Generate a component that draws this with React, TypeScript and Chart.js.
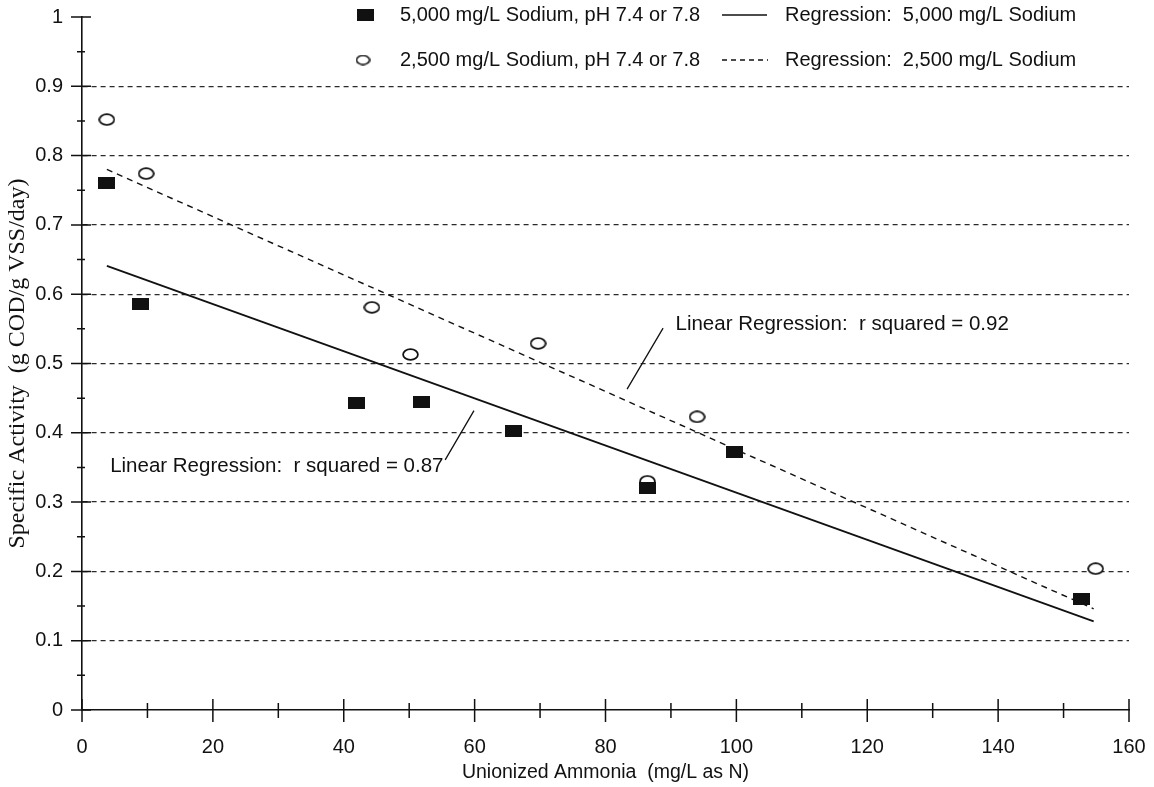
import React, { useEffect, useRef } from 'react';
import { Chart, registerables } from 'chart.js';

Chart.register(...registerables);

// ---- Data ----
const squareX = [3.8, 8.9, 41.9, 51.9, 65.9, 86.4, 99.7, 152.8];
const squareY = [0.761, 0.586, 0.443, 0.444, 0.402, 0.32, 0.373, 0.16];

const circleX = [3.8, 9.8, 44.3, 50.2, 69.7, 86.4, 94.0, 154.9];
const circleY = [0.852, 0.774, 0.581, 0.513, 0.529, 0.33, 0.423, 0.204];

const reg5000X = [3.8, 154.6];
const reg5000Y = [0.641, 0.128];
const reg2500X = [3.8, 154.6];
const reg2500Y = [0.78, 0.146];

const xMajorTicks = [0, 20, 40, 60, 80, 100, 120, 140, 160];
const xMinorTicks = [10, 30, 50, 70, 90, 110, 130, 150];
const yMajorTicks = [0, 0.1, 0.2, 0.3, 0.4, 0.5, 0.6, 0.7, 0.8, 0.9, 1];
const yMinorTicks = [0.05, 0.15, 0.25, 0.35, 0.45, 0.55, 0.65, 0.75, 0.85, 0.95];

const legendLabels = [
  '5,000 mg/L Sodium, pH 7.4 or 7.8',
  '2,500 mg/L Sodium, pH 7.4 or 7.8',
];
const regressionLabels = [
  'Regression:  5,000 mg/L Sodium',
  'Regression:  2,500 mg/L Sodium',
];

const xTitle = 'Unionized Ammonia  (mg/L as N)';
const yTitle = 'Specific Activity  (g COD/g VSS/day)';

// annotation texts with anchor (data coords) and leader lines (data coords)
const note92 = 'Linear Regression:  r squared = 0.92';
const note92Anchor = [90.7, 0.556];
const note92Leader = [[88.8, 0.551], [83.3, 0.463]];
const note87 = 'Linear Regression:  r squared = 0.87';
const note87Anchor = [4.3, 0.351];
const note87Leader = [[55.5, 0.361], [59.9, 0.432]];

const SANS = '"Liberation Sans", Arial, Helvetica, sans-serif';
const SERIF = '"Liberation Serif", "Times New Roman", serif';
const INK = '#111';

function makeRect(w: number, h: number) {
  const c = document.createElement('canvas');
  c.width = w;
  c.height = h;
  const g = c.getContext('2d')!;
  g.fillStyle = INK;
  g.fillRect(0, 0, w, h);
  return c;
}

function makeEllipse(w: number, h: number, lw: number) {
  const c = document.createElement('canvas');
  c.width = w;
  c.height = h;
  const g = c.getContext('2d')!;
  g.beginPath();
  g.ellipse(w / 2, h / 2, w / 2 - lw / 2 - 0.2, h / 2 - lw / 2 - 0.2, 0, 0, Math.PI * 2);
  g.fillStyle = '#fff';
  g.fill();
  g.lineWidth = lw;
  g.strokeStyle = INK;
  g.stroke();
  return c;
}

function fmtY(v: number) {
  if (Math.abs(v) < 1e-9) return '0';
  if (Math.abs(v - 1) < 1e-9) return '1';
  return v.toFixed(1);
}

export default function App() {
  const ref = useRef<HTMLCanvasElement | null>(null);

  useEffect(() => {
    document.body.style.margin = '0';
    const canvas = ref.current;
    if (!canvas) return;

    const sq = makeRect(17, 12);
    const el = makeEllipse(17, 13, 1.8);
    const sqLegend = makeRect(17, 12);
    const elLegend = makeEllipse(15, 11, 1.6);

    const decor = {
      id: 'decor',
      afterDraw(chart: any) {
        const { ctx, scales } = chart;
        const xs = scales.x;
        const ys = scales.y;
        const ax = xs.getPixelForValue(0);
        const ay = ys.getPixelForValue(0);
        ctx.save();
        ctx.strokeStyle = INK;
        ctx.lineWidth = 1.5;
        ctx.setLineDash([]);
        ctx.beginPath();
        yMajorTicks.forEach((v) => {
          const p = ys.getPixelForValue(v);
          ctx.moveTo(ax - 11, p);
          ctx.lineTo(ax + 9, p);
        });
        yMinorTicks.forEach((v) => {
          const p = ys.getPixelForValue(v);
          ctx.moveTo(ax - 5, p);
          ctx.lineTo(ax + 3, p);
        });
        xMajorTicks.forEach((v) => {
          const p = xs.getPixelForValue(v);
          ctx.moveTo(p, ay - 11);
          ctx.lineTo(p, ay + 12);
        });
        xMinorTicks.forEach((v) => {
          const p = xs.getPixelForValue(v);
          ctx.moveTo(p, ay - 7);
          ctx.lineTo(p, ay + 8);
        });
        ctx.stroke();

        // leader lines
        ctx.lineWidth = 1.3;
        ctx.beginPath();
        [note92Leader, note87Leader].forEach((seg) => {
          ctx.moveTo(xs.getPixelForValue(seg[0][0]), ys.getPixelForValue(seg[0][1]));
          ctx.lineTo(xs.getPixelForValue(seg[1][0]), ys.getPixelForValue(seg[1][1]));
        });
        ctx.stroke();

        // annotation texts
        ctx.fillStyle = INK;
        ctx.font = `20.5px ${SANS}`;
        ctx.textAlign = 'left';
        ctx.textBaseline = 'middle';
        ctx.fillText(note92, xs.getPixelForValue(note92Anchor[0]), ys.getPixelForValue(note92Anchor[1]));
        ctx.fillText(note87, xs.getPixelForValue(note87Anchor[0]), ys.getPixelForValue(note87Anchor[1]));

        // legend
        ctx.font = `20px ${SANS}`;
        const rows = [15, 60];
        ctx.drawImage(sqLegend, 365 - sqLegend.width / 2, rows[0] - sqLegend.height / 2);
        ctx.drawImage(elLegend, 363 - elLegend.width / 2, rows[1] - elLegend.height / 2);
        ctx.fillText(legendLabels[0], 400, rows[0]);
        ctx.fillText(legendLabels[1], 400, rows[1]);
        ctx.lineWidth = 1.6;
        ctx.beginPath();
        ctx.moveTo(722, rows[0]);
        ctx.lineTo(767, rows[0]);
        ctx.stroke();
        ctx.lineWidth = 1.3;
        ctx.setLineDash([5, 4]);
        ctx.beginPath();
        ctx.moveTo(722, rows[1]);
        ctx.lineTo(768, rows[1]);
        ctx.stroke();
        ctx.setLineDash([]);
        ctx.fillText(regressionLabels[0], 785, rows[0]);
        ctx.fillText(regressionLabels[1], 785, rows[1]);
        ctx.restore();
      },
    };

    const toPts = (xs: number[], ys: number[]) => xs.map((x, i) => ({ x, y: ys[i] }));

    const chart = new Chart(canvas, {
      type: 'scatter',
      data: {
        datasets: [
          {
            label: legendLabels[0],
            data: toPts(squareX, squareY),
            pointStyle: sq as any,
            pointRadius: 6,
            pointHoverRadius: 6,
          },
          {
            label: legendLabels[1],
            data: toPts(circleX, circleY),
            pointStyle: el as any,
            pointRadius: 6,
            pointHoverRadius: 6,
          },
          {
            label: regressionLabels[0],
            data: toPts(reg5000X, reg5000Y),
            showLine: true,
            pointRadius: 0,
            borderColor: INK,
            borderWidth: 1.8,
          } as any,
          {
            label: regressionLabels[1],
            data: toPts(reg2500X, reg2500Y),
            showLine: true,
            pointRadius: 0,
            borderColor: INK,
            borderWidth: 1.4,
            borderDash: [6, 5],
          } as any,
        ],
      },
      options: {
        animation: false,
        responsive: false,
        devicePixelRatio: 1,
        layout: { padding: { top: 17, right: 25, left: 0, bottom: 0 } },
        plugins: {
          legend: { display: false },
          tooltip: { enabled: false },
        },
        scales: {
          x: {
            type: 'linear',
            min: 0,
            max: 160,
            ticks: {
              stepSize: 20,
              padding: 25,
              color: INK,
              font: { family: SANS, size: 20 },
            },
            grid: { display: false, drawTicks: false },
            border: { display: true, color: INK, width: 1.6 },
            title: {
              display: true,
              text: xTitle,
              color: INK,
              font: { family: SANS, size: 19.5 },
              padding: { top: 0, bottom: 3 },
            },
            afterFit: (s: any) => {
              s.height = 77;
              s.paddingLeft = 0;
              s.paddingRight = 0;
            },
          },
          y: {
            type: 'linear',
            min: 0,
            max: 1,
            ticks: {
              stepSize: 0.1,
              padding: 19,
              color: INK,
              font: { family: SANS, size: 20 },
              callback: (v: any) => fmtY(Number(v)),
            },
            grid: {
              drawTicks: false,
              lineWidth: 1.3,
              color: (c: any) => {
                const v = c.tick ? c.tick.value : 0;
                return v < 0.001 || v > 0.999 ? 'rgba(0,0,0,0)' : '#2a2a2a';
              },
            },
            border: { display: true, color: INK, width: 1.6, dash: [5, 4] },
            title: {
              display: true,
              text: yTitle,
              color: INK,
              font: { family: SERIF, size: 24 },
              padding: { top: 3, bottom: 0 },
            },
            afterFit: (s: any) => {
              s.width = 82;
              s.paddingTop = 0;
              s.paddingBottom = 0;
            },
          },
        },
      } as any,
      plugins: [decor],
    });

    return () => {
      chart.destroy();
    };
  }, []);

  return (
    <div style={{ position: 'absolute', left: 0, top: 0, width: 1154, height: 787, background: '#fff' }}>
      <canvas ref={ref} width={1154} height={787} style={{ display: 'block' }} />
    </div>
  );
}
